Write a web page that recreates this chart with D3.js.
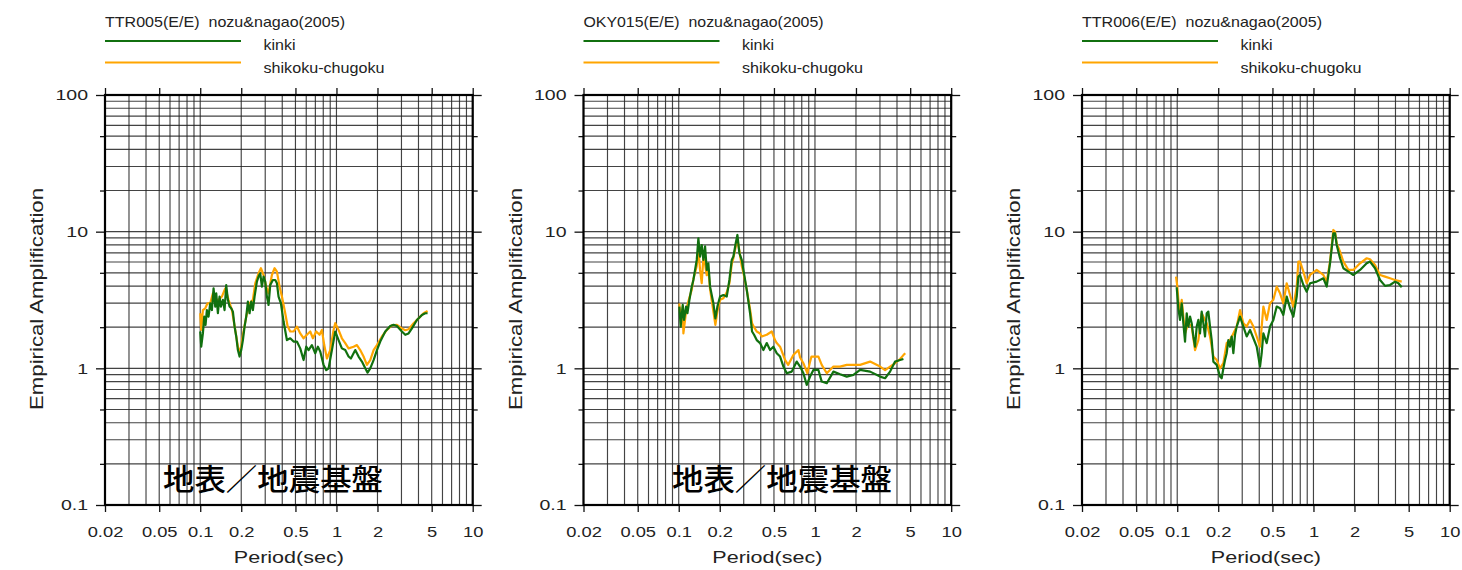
<!DOCTYPE html>
<html>
<head>
<meta charset="utf-8">
<script src="https://cdn.jsdelivr.net/npm/d3@7"></script>
<style>
  html, body { margin: 0; padding: 0; background: #fff; }
  svg { display: block; font-family: "Liberation Sans", Arial, sans-serif; }
</style>
</head>
<body>
<svg id="chart" width="1462" height="570"></svg>
<script>
// ---- axis ticks ----
const periodTicks = [0.02, 0.05, 0.1, 0.2, 0.5, 1, 2, 5, 10];
const ampTicks = [0.1, 1, 10, 100];
const ampMinorTicks = [0.2, 0.5, 2, 5, 20, 50];

// ---- series names ----
const seriesNames = ["kinki", "shikoku-chugoku"];
const sourceLabel = "nozu&nagao(2005)";
const stations = ["TTR005(E/E)", "OKY015(E/E)", "TTR006(E/E)"];
const noteText = "地表／地震基盤";

// ---- TTR005 ----
const ttr005KinkiT = [0.1000,0.1017,0.1046,0.1070,0.1094,0.1119,0.1151,0.1184,0.1218,0.1253,0.1289,0.1311,0.1348,0.1386,0.1418,0.1467,0.1509,0.1552,0.1596,0.1642,0.1689,0.1737,0.1787,0.1838,0.1890,0.1944,0.2000,0.2057,0.2116,0.2176,0.2238,0.2302,0.2368,0.2435,0.2505,0.2606,0.2680,0.2757,0.2836,0.2917,0.3000,0.3086,0.3174,0.3265,0.3415,0.3553,0.3655,0.3758,0.3910,0.4091,0.4327,0.4578,0.4844,0.5124,0.5421,0.5736,0.6000,0.6242,0.6602,0.6985,0.7307,0.7601,0.8041,0.8414,0.8752,0.9260,0.9795,1.036,1.096,1.160,1.227,1.276,1.374,1.453,1.538,1.627,1.692,1.770,1.873,1.982,2.096,2.281,2.482,2.626,2.778,3.023,3.198,3.383,3.580,3.895,4.239,4.485,4.664];
const ttr005KinkiAmp = [1.86,1.44,1.80,2.39,2.08,2.67,2.39,2.99,2.67,3.85,2.83,3.54,2.53,3.35,2.83,3.17,2.67,4.07,3.17,2.83,2.75,2.60,2.02,1.71,1.36,1.22,1.36,1.61,2.02,2.39,3.08,2.53,3.08,2.67,3.35,4.31,4.69,4.96,3.96,4.69,4.31,3.35,2.91,4.07,4.43,4.43,4.19,3.35,2.99,2.20,1.61,1.66,1.57,1.57,1.40,1.15,1.44,1.36,1.48,1.29,1.44,1.33,1.06,0.97,1.00,1.36,1.86,1.61,1.40,1.36,1.22,1.18,1.36,1.22,1.12,1.00,0.93,1.00,1.15,1.36,1.57,1.86,2.04,2.08,2.04,1.86,1.76,1.80,1.96,2.26,2.46,2.53,2.53];
const ttr005ShikokuT = [0.1000,0.1017,0.1046,0.1088,0.1132,0.1184,0.1239,0.1289,0.1363,0.1442,0.1526,0.1614,0.1708,0.1807,0.1890,0.1966,0.2057,0.2176,0.2302,0.2435,0.2533,0.2680,0.2789,0.2917,0.3051,0.3174,0.3358,0.3513,0.3655,0.3824,0.3978,0.4207,0.4376,0.4578,0.4844,0.5124,0.5421,0.5736,0.6067,0.6420,0.6715,0.7105,0.7516,0.7819,0.8134,0.8508,0.9000,0.9524,0.9795,1.036,1.096,1.160,1.227,1.335,1.413,1.494,1.581,1.673,1.770,1.873,1.982,2.156,2.346,2.553,2.778,3.023,3.198,3.383,3.683,4.007,4.361,4.664];
const ttr005ShikokuAmp = [2.53,1.91,2.67,2.75,2.99,2.99,3.54,3.17,3.17,3.35,3.85,3.17,2.67,1.91,1.44,1.29,1.76,2.39,2.99,3.17,4.19,4.96,5.40,4.82,3.96,3.54,4.82,5.40,5.10,3.96,3.35,2.53,2.04,1.86,1.86,2.02,1.80,1.66,1.76,1.86,1.66,1.86,1.76,1.91,1.48,1.18,1.36,1.91,2.14,1.91,1.66,1.53,1.40,1.44,1.48,1.36,1.22,1.06,1.15,1.36,1.48,1.71,1.91,2.06,2.08,1.96,1.90,1.93,2.14,2.32,2.53,2.63];

// ---- OKY015 ----
const oky015KinkiT = [0.101,0.1034,0.107,0.1094,0.1132,0.1158,0.1198,0.1246,0.1281,0.1318,0.1356,0.1394,0.1434,0.1475,0.1517,0.1561,0.1606,0.1651,0.1698,0.1797,0.1858,0.1922,0.2011,0.2128,0.2251,0.2355,0.2450,0.2519,0.2620,0.2696,0.2789,0.2901,0.2984,0.3158,0.3340,0.3453,0.3573,0.3737,0.3955,0.4183,0.4426,0.4683,0.4953,0.5241,0.5545,0.5867,0.6206,0.6753,0.7348,0.7775,0.8226,0.8703,0.9207,0.9741,1.060,1.121,1.221,1.366,1.529,1.711,1.915,2.144,2.539,3.006,3.271,3.559,3.873,4.215,4.460];
const oky015KinkiAmp = [2.83,2.02,2.91,2.26,2.83,2.53,3.17,3.96,4.43,5.25,6.21,8.94,6.57,7.99,6.21,7.80,5.25,5.87,3.96,2.99,2.32,2.83,3.35,3.44,3.35,4.43,6.21,6.57,8.22,9.46,6.95,6.21,5.25,3.75,2.53,1.86,1.76,1.61,1.53,1.36,1.53,1.36,1.44,1.29,1.22,1.03,0.92,0.946,1.12,1.03,0.92,0.756,0.87,0.973,0.973,0.80,0.778,0.946,0.905,0.87,0.895,0.973,0.946,0.87,0.846,0.946,1.12,1.15,1.17];
const oky015ShikokuT = [0.101,0.1034,0.107,0.1082,0.1132,0.1158,0.1198,0.1246,0.1281,0.1318,0.1356,0.1394,0.1434,0.1475,0.1517,0.1561,0.1606,0.1651,0.1698,0.1797,0.1858,0.1922,0.2011,0.2128,0.2251,0.2355,0.2450,0.2519,0.2620,0.2696,0.2789,0.2901,0.2984,0.3158,0.3340,0.3453,0.3573,0.3737,0.3955,0.4067,0.4426,0.4820,0.5090,0.5241,0.5545,0.6040,0.6360,0.6940,0.7560,0.7775,0.8226,0.8800,0.9207,0.9430,1.060,1.121,1.221,1.366,1.529,1.711,1.915,2.144,2.539,3.006,3.271,3.559,3.873,4.215,4.460,4.600];
const oky015ShikokuAmp = [2.99,2.26,2.80,1.80,2.60,2.90,3.30,3.75,4.50,5.00,5.60,7.50,5.25,4.20,6.50,5.80,4.80,5.25,3.80,2.60,2.08,2.60,3.17,3.26,3.60,4.20,5.80,6.40,7.80,8.80,7.20,5.60,5.00,3.75,2.70,2.14,2.00,1.86,1.80,1.71,1.76,1.86,1.61,1.53,1.44,1.15,1.06,1.25,1.36,1.20,1.09,0.92,1.12,1.22,1.22,1.06,0.92,1.03,1.03,1.06,1.06,1.06,1.12,1.03,0.97,1.03,1.09,1.17,1.25,1.29];

// ---- TTR006 ----
const ttr006KinkiT = [0.0991,0.1019,0.1048,0.1079,0.1109,0.1141,0.1174,0.1207,0.1242,0.1277,0.1314,0.1351,0.1390,0.1429,0.1470,0.1512,0.1555,0.1600,0.1646,0.1692,0.1741,0.1791,0.1842,0.1949,0.2062,0.2120,0.2181,0.2243,0.2307,0.2373,0.2441,0.2510,0.2582,0.2656,0.2732,0.2891,0.3058,0.3236,0.3423,0.3622,0.3831,0.4053,0.4169,0.4289,0.4537,0.4800,0.5078,0.5373,0.5683,0.6013,0.6362,0.6730,0.7120,0.7534,0.7748,0.7970,0.8432,0.8920,0.9438,1.056,1.182,1.251,1.323,1.400,1.440,1.481,1.567,1.658,1.804,1.963,2.197,2.459,2.602,2.831,3.081,3.353,3.648,3.970,4.201,4.444];
const ttr006KinkiAmp = [3.92,2.75,2.26,2.99,2.14,1.57,2.53,2.02,2.39,2.14,1.71,1.44,2.02,2.26,1.80,2.60,2.14,1.71,2.53,2.60,2.02,1.61,1.12,1.06,0.87,0.846,1.00,1.15,1.29,1.61,1.44,1.71,1.29,1.76,2.02,2.39,2.02,1.71,1.91,1.66,1.44,1.03,1.29,1.80,1.53,2.02,2.26,2.83,2.75,2.46,3.35,2.75,2.39,3.35,4.69,4.82,4.07,3.64,4.19,4.31,4.56,3.96,5.87,9.73,9.73,7.99,6.39,5.40,5.10,4.82,5.25,5.87,6.04,5.40,4.43,4.01,4.07,4.31,4.19,3.92];
const ttr006ShikokuT = [0.0980,0.1002,0.1037,0.1079,0.1141,0.1207,0.1277,0.1351,0.1429,0.1512,0.1646,0.1741,0.1842,0.1949,0.2062,0.2181,0.2307,0.2441,0.2582,0.2732,0.2891,0.3058,0.3236,0.3423,0.3622,0.3831,0.4053,0.4289,0.4537,0.4800,0.5078,0.5373,0.5683,0.6013,0.6362,0.6730,0.7120,0.7534,0.7748,0.7970,0.8432,0.8920,0.9438,1.056,1.182,1.251,1.323,1.400,1.440,1.481,1.567,1.658,1.804,1.963,2.197,2.459,2.602,2.831,3.081,3.353,3.648,3.970,4.444];
const ttr006ShikokuAmp = [4.69,3.96,2.53,3.17,1.80,2.14,2.02,1.36,1.61,2.53,2.14,1.71,1.22,1.15,1.00,1.09,1.53,1.61,1.80,2.02,2.67,2.14,2.02,2.26,2.02,1.71,1.44,2.83,2.26,2.99,3.17,3.96,3.54,2.99,4.19,3.44,2.83,3.96,6.04,6.04,5.10,4.19,4.82,5.25,4.82,4.31,6.04,10.29,10.00,8.22,7.14,6.04,5.25,5.25,5.87,6.39,6.28,5.71,4.82,4.69,4.56,4.43,4.31];

// ---- layout ----
const TOP = 95, W = 367.7, H = 410;
const panels = [
  { station: stations[0], left: 105,   kinki: [ttr005KinkiT, ttr005KinkiAmp], shikoku: [ttr005ShikokuT, ttr005ShikokuAmp], noteX: 273 },
  { station: stations[1], left: 583.5, kinki: [oky015KinkiT, oky015KinkiAmp], shikoku: [oky015ShikokuT, oky015ShikokuAmp], noteX: 782 },
  { station: stations[2], left: 1082,  kinki: [ttr006KinkiT, ttr006KinkiAmp], shikoku: [ttr006ShikokuT, ttr006ShikokuAmp], noteX: null }
];
const colors = { kinki: "#11700f", shikoku: "#ffa500" };

const svg = d3.select("#chart");
const x = d3.scaleLog().domain([0.02, 10]).range([0, W]);
const y = d3.scaleLog().domain([0.1, 100]).range([H, 0]);
const fmt = d3.format("~g");

// widen text horizontally by a factor of its natural length
function stretch(sel, factor) {
  sel.each(function () {
    const n = this.getComputedTextLength();
    d3.select(this).attr("textLength", n * factor).attr("lengthAdjust", "spacingAndGlyphs");
  });
}

const line = d3.line().x(d => x(d[0])).y(d => y(d[1]));

panels.forEach(p => {
  const g = svg.append("g").attr("transform", `translate(${p.left},${TOP})`);

  // log grid
  g.append("g").selectAll("line").data(x.ticks()).join("line")
    .attr("x1", d => x(d)).attr("x2", d => x(d)).attr("y1", 0).attr("y2", H)
    .attr("stroke", "#222").attr("stroke-width", 1.15).attr("stroke-opacity", 0.85);
  g.append("g").selectAll("line").data(y.ticks()).join("line")
    .attr("y1", d => y(d)).attr("y2", d => y(d)).attr("x1", 0).attr("x2", W)
    .attr("stroke", "#222").attr("stroke-width", 1.15).attr("stroke-opacity", 0.85);

  const styleAxis = s => {
    s.select(".domain").remove();
    s.selectAll(".tick line").attr("stroke", "#111").attr("stroke-width", 1.3);
    s.selectAll(".tick text").attr("fill", "#222").attr("font-size", 15)
      .attr("font-family", "'Liberation Sans', Arial, sans-serif");
  };

  // axes
  const bottom = g.append("g").attr("transform", `translate(0,${H})`)
    .call(d3.axisBottom(x).tickValues(periodTicks).tickFormat(fmt).tickSize(7).tickPadding(14)).call(styleAxis);
  g.append("g").call(d3.axisTop(x).tickValues(periodTicks).tickFormat("").tickSize(7)).call(styleAxis);
  const left = g.append("g")
    .call(d3.axisLeft(y).tickValues(ampTicks).tickFormat(fmt).tickSize(9).tickPadding(8)).call(styleAxis);
  g.append("g").call(d3.axisLeft(y).tickValues(ampMinorTicks).tickFormat("").tickSize(5)).call(styleAxis);
  g.append("g").attr("transform", `translate(${W},0)`)
    .call(d3.axisRight(y).tickValues(ampTicks).tickFormat("").tickSize(9)).call(styleAxis);
  g.append("g").attr("transform", `translate(${W},0)`)
    .call(d3.axisRight(y).tickValues(ampMinorTicks).tickFormat("").tickSize(5)).call(styleAxis);
  stretch(bottom.selectAll(".tick text"), 1.22);
  stretch(left.selectAll(".tick text"), 1.3);

  // frame
  g.append("rect").attr("width", W).attr("height", H)
    .attr("fill", "none").attr("stroke", "#000").attr("stroke-width", 2.2);

  // curves
  g.append("path").datum(d3.zip(p.shikoku[0], p.shikoku[1])).attr("d", line)
    .attr("fill", "none").attr("stroke", colors.shikoku).attr("stroke-width", 2.2).attr("stroke-linejoin", "round");
  g.append("path").datum(d3.zip(p.kinki[0], p.kinki[1])).attr("d", line)
    .attr("fill", "none").attr("stroke", colors.kinki).attr("stroke-width", 2.2).attr("stroke-linejoin", "round");

  // axis titles
  g.append("text").attr("x", W / 2).attr("y", 468).attr("text-anchor", "middle")
    .attr("font-size", 16).attr("fill", "#222").attr("textLength", 110).attr("lengthAdjust", "spacingAndGlyphs")
    .text("Period(sec)");
  g.append("text").attr("transform", `translate(-62,${H / 2 - 1}) rotate(-90)`).attr("text-anchor", "middle")
    .attr("font-size", 18).attr("fill", "#222").attr("textLength", 222).attr("lengthAdjust", "spacingAndGlyphs")
    .text("Empirical Amplification");

  // legend
  const lg = svg.append("g").attr("transform", `translate(${p.left},0)`);
  lg.append("text").attr("x", 0).attr("y", 27.3).attr("font-size", 14.5).attr("fill", "#222")
    .style("white-space", "pre").attr("textLength", 240).attr("lengthAdjust", "spacingAndGlyphs")
    .text(`${p.station}  ${sourceLabel}`);
  lg.append("line").attr("x1", 0).attr("x2", 136).attr("y1", 41).attr("y2", 41)
    .attr("stroke", colors.kinki).attr("stroke-width", 2);
  lg.append("line").attr("x1", 0).attr("x2", 136).attr("y1", 62.5).attr("y2", 62.5)
    .attr("stroke", colors.shikoku).attr("stroke-width", 2);
  lg.append("text").attr("x", 158.5).attr("y", 50).attr("font-size", 14.5).attr("fill", "#222")
    .attr("textLength", 32).attr("lengthAdjust", "spacingAndGlyphs").text(seriesNames[0]);
  lg.append("text").attr("x", 158.5).attr("y", 72.5).attr("font-size", 14.5).attr("fill", "#222")
    .attr("textLength", 121).attr("lengthAdjust", "spacingAndGlyphs").text(seriesNames[1]);

  // surface / seismic bedrock note
  if (p.noteX !== null) {
    svg.append("text").attr("x", p.noteX).attr("y", 490).attr("text-anchor", "middle")
      .attr("font-family", "'Noto Sans CJK JP', sans-serif").attr("font-weight", 500)
      .attr("font-size", 30).attr("fill", "#000").attr("textLength", 220).attr("lengthAdjust", "spacingAndGlyphs")
      .text(noteText);
  }
});
</script>
</body>
</html>
